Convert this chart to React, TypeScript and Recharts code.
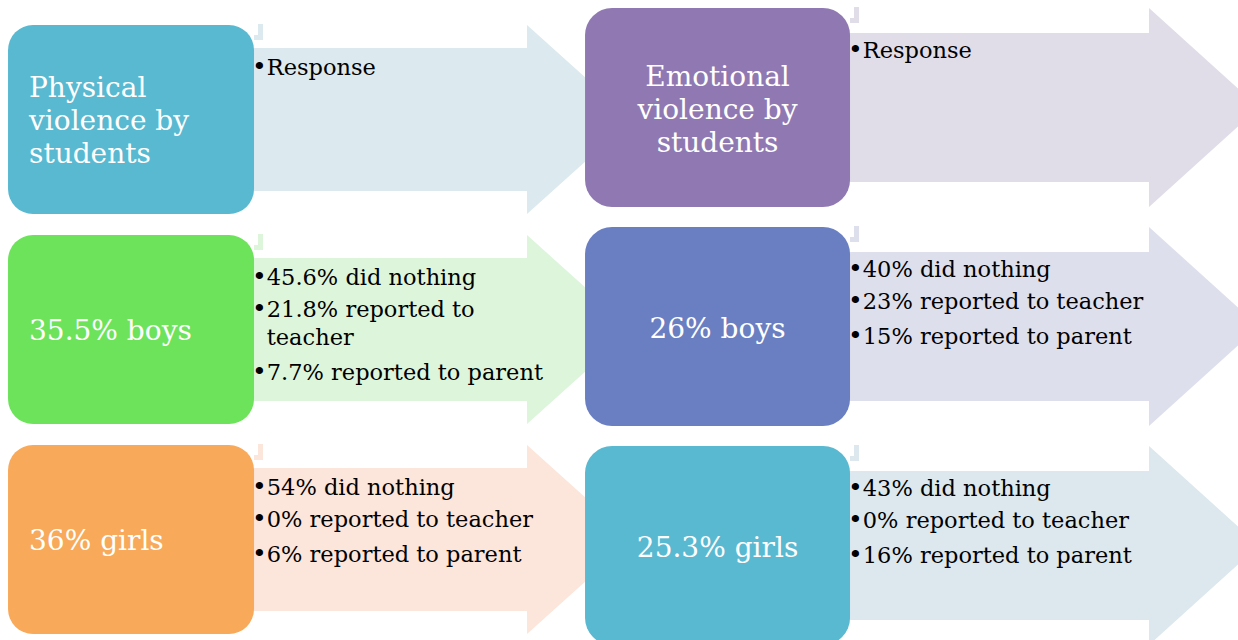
import { Scatter, ScatterChart, XAxis, YAxis } from 'recharts'

// groups shown in rows 2 and 3 of each column
const groups = ['boys', 'girls']

// physical violence by students (% of boys / girls)
const physicalShare = [35.5, 36]
const physicalNothing = [45.6, 54]
const physicalTeacher = [21.8, 0]
const physicalParent = [7.7, 6]

// emotional violence by students
const emotionalShare = [26, 25.3]
const emotionalNothing = [40, 43]
const emotionalTeacher = [23, 0]
const emotionalParent = [15, 16]

interface ICell {
  col: number
  row: number
  label: string
  items: string[]
}

const buildCells = (
  type: string,
  col: number,
  share: number[],
  nothing: number[],
  teacher: number[],
  parent: number[]
): ICell[] => [
  { col, row: 0, label: `${type} violence by students`, items: ['Response'] },
  ...groups.map((g, i) => ({
    col,
    row: i + 1,
    label: `${share[i]}% ${g}`,
    items: [`${nothing[i]}% did nothing`, `${teacher[i]}% reported to teacher`, `${parent[i]}% reported to parent`],
  })),
]

const physicalCells = buildCells('Physical', 0, physicalShare, physicalNothing, physicalTeacher, physicalParent)
const emotionalCells = buildCells('Emotional', 1, emotionalShare, emotionalNothing, emotionalTeacher, emotionalParent)

const FONT = '"DejaVu Serif", serif'
const LABEL_SIZE = 28
const ITEM_SIZE = 22.5
const BULLET_SIZE = 25
const PARA_GAP = [32, 35]

const LEFT = {
  boxW: 246,
  boxH: 189,
  r: 25,
  inset: 23,
  headX: 519,
  headLen: 105,
  textX: 244,
  labelAnchor: 'start',
  labelW: 206,
  itemW: 287,
  colors: [
    ['#59b9d1', '#dce9ef'],
    ['#6de35b', '#ddf5db'],
    ['#f8a95a', '#fce5da'],
  ],
}

const RIGHT = {
  boxW: 265,
  boxH: 199,
  r: 27,
  inset: 25,
  headX: 564,
  headLen: 110,
  textX: 263,
  labelAnchor: 'middle',
  labelW: 225,
  itemW: 350,
  colors: [
    ['#9079b2', '#e0dde9'],
    ['#6a7fc2', '#dedfec'],
    ['#59b9d1', '#dce8ee'],
  ],
}

let ctx: CanvasRenderingContext2D | null = null
const measure = (s: string, size: number) => {
  if (!ctx) ctx = document.createElement('canvas').getContext('2d')
  ctx!.font = `${size}px ${FONT}`
  return ctx!.measureText(s).width
}

const wrap = (text: string, size: number, maxW: number) => {
  const lines: string[] = []
  let cur = ''
  text.split(' ').forEach((w) => {
    const next = cur ? `${cur} ${w}` : w
    if (cur && measure(next, size) > maxW) {
      lines.push(cur)
      cur = w
    } else cur = next
  })
  if (cur) lines.push(cur)
  return lines
}

const CellShape = (props: any) => {
  const { cx, cy, payload } = props
  const L = payload.col === 0 ? LEFT : RIGHT
  const [boxColor, arrowColor] = L.colors[payload.row]
  const x0 = cx - L.boxW / 2
  const y0 = cy - L.boxH / 2
  const right = x0 + L.boxW
  const bottom = y0 + L.boxH
  const hx = x0 + L.headX
  const sTop = y0 + L.inset
  const sBot = bottom - L.inset

  const arrow = `M${cx},${sTop} H${hx} V${y0} L${hx + L.headLen},${cy} L${hx},${bottom} V${sBot} H${cx} Z`
  const mark = `M${right + 4},${y0 - 1} h5 v16 h-9 v-5 h4 Z`

  const labelLines = wrap(payload.label, LABEL_SIZE, L.labelW)
  const labelX = L.labelAnchor === 'start' ? x0 + 21 : cx
  const labelY0 = cy - ((labelLines.length - 1) / 2) * 33 + 11

  const textX = x0 + L.textX
  const indent = measure('•', BULLET_SIZE)
  let y = y0 + 50
  const items: JSX.Element[] = []
  payload.items.forEach((item: string, i: number) => {
    if (i > 0) y += PARA_GAP[i - 1]
    const lines = wrap(item, ITEM_SIZE, L.itemW)
    lines.forEach((ln, j) => {
      if (j > 0) y += 28
      items.push(
        <text
          key={`t${i}-${j}`}
          x={j === 0 ? textX : textX + indent}
          y={y}
          fontSize={ITEM_SIZE}
          fontFamily={FONT}
          fill='#000'
        >
          {j === 0 && <tspan fontSize={BULLET_SIZE}>•</tspan>}
          <tspan>{ln}</tspan>
        </text>
      )
    })
  })

  return (
    <g>
      <path d={arrow} fill={arrowColor} />
      <path d={mark} fill={arrowColor} />
      <rect x={x0} y={y0} width={L.boxW} height={L.boxH} rx={L.r} ry={L.r} fill={boxColor} />
      {labelLines.map((ln, i) => (
        <text
          key={i}
          x={labelX}
          y={labelY0 + i * 33}
          textAnchor={L.labelAnchor}
          fontSize={LABEL_SIZE}
          fontFamily={FONT}
          fill='#fff'
        >
          {ln}
        </text>
      ))}
      {items}
    </g>
  )
}

const App = () => {
  return (
    <div style={{ position: 'absolute', left: 0, top: 0, background: '#fff' }}>
      <ScatterChart width={1238} height={640} margin={{ top: 0, right: 0, bottom: 0, left: 0 }}>
        <XAxis type='number' dataKey='col' domain={[-0.2234, 1.8874]} allowDataOverflow hide />
        <YAxis yAxisId='left' type='number' dataKey='row' domain={[-0.569, 2.4786]} allowDataOverflow reversed hide />
        <YAxis yAxisId='right' type='number' dataKey='row' domain={[-0.4909, 2.4315]} allowDataOverflow reversed hide />
        <Scatter data={physicalCells} yAxisId='left' shape={(p: any) => <CellShape {...p} />} isAnimationActive={false} />
        <Scatter data={emotionalCells} yAxisId='right' shape={(p: any) => <CellShape {...p} />} isAnimationActive={false} />
      </ScatterChart>
    </div>
  )
}

export default App
